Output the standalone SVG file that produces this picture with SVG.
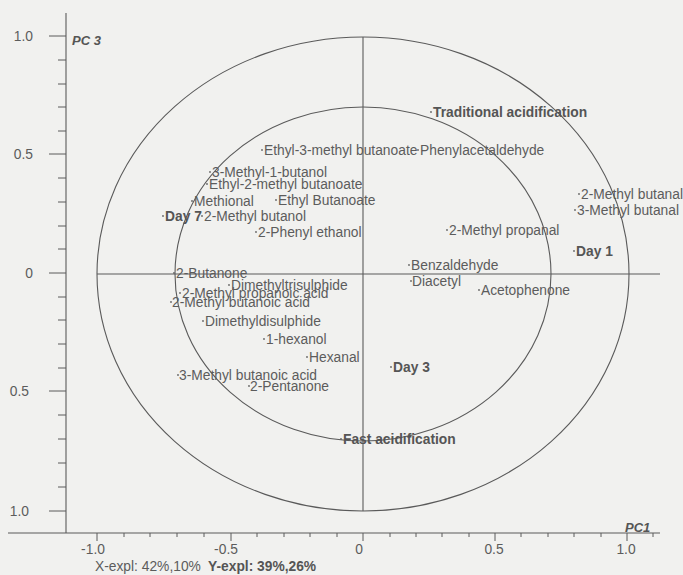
<svg xmlns="http://www.w3.org/2000/svg" width="683" height="575" viewBox="0 0 683 575">
<style>
.bg{fill:#f1f1ef}
.ln{stroke:#5a5a5a;stroke-width:1.1;fill:none}
.tk{stroke:#5a5a5a;stroke-width:1}
text{font-family:"Liberation Sans",Arial,sans-serif;fill:#5c5c5c;font-size:13.8px}
.b{font-weight:bold;fill:#555}
.ax{font-size:13.5px;fill:#666}
.it{font-style:italic;font-weight:bold;fill:#555;font-size:13px}
.dot{fill:#666}
</style>
<defs>
<circle id="d" r="0.9" class="dot"/>
</defs>
<rect class="bg" x="0" y="0" width="683" height="575"/>
<g id="axes">
<line class="ln" x1="66" y1="13" x2="66" y2="533"/>
<line class="ln" x1="8" y1="533" x2="660" y2="533"/>
<g class="tk">
<line x1="49" y1="36" x2="66" y2="36"/>
<line x1="58" y1="60" x2="66" y2="60"/>
<line x1="58" y1="84" x2="66" y2="84"/>
<line x1="58" y1="107" x2="66" y2="107"/>
<line x1="58" y1="131" x2="66" y2="131"/>
<line x1="49" y1="154" x2="66" y2="154"/>
<line x1="58" y1="178" x2="66" y2="178"/>
<line x1="58" y1="202" x2="66" y2="202"/>
<line x1="58" y1="226" x2="66" y2="226"/>
<line x1="58" y1="249" x2="66" y2="249"/>
<line x1="49" y1="273" x2="66" y2="273"/>
<line x1="58" y1="297" x2="66" y2="297"/>
<line x1="58" y1="320" x2="66" y2="320"/>
<line x1="58" y1="344" x2="66" y2="344"/>
<line x1="58" y1="368" x2="66" y2="368"/>
<line x1="49" y1="391" x2="66" y2="391"/>
<line x1="58" y1="415" x2="66" y2="415"/>
<line x1="58" y1="439" x2="66" y2="439"/>
<line x1="58" y1="463" x2="66" y2="463"/>
<line x1="58" y1="487" x2="66" y2="487"/>
<line x1="49" y1="511" x2="66" y2="511"/>
<line x1="97" y1="533" x2="97" y2="541"/>
<line x1="124" y1="533" x2="124" y2="537"/>
<line x1="150" y1="533" x2="150" y2="537"/>
<line x1="177" y1="533" x2="177" y2="537"/>
<line x1="204" y1="533" x2="204" y2="537"/>
<line x1="231" y1="533" x2="231" y2="541"/>
<line x1="257" y1="533" x2="257" y2="537"/>
<line x1="284" y1="533" x2="284" y2="537"/>
<line x1="310" y1="533" x2="310" y2="537"/>
<line x1="337" y1="533" x2="337" y2="537"/>
<line x1="363" y1="533" x2="363" y2="541"/>
<line x1="390" y1="533" x2="390" y2="537"/>
<line x1="416" y1="533" x2="416" y2="537"/>
<line x1="442" y1="533" x2="442" y2="537"/>
<line x1="469" y1="533" x2="469" y2="537"/>
<line x1="495" y1="533" x2="495" y2="541"/>
<line x1="521" y1="533" x2="521" y2="537"/>
<line x1="548" y1="533" x2="548" y2="537"/>
<line x1="574" y1="533" x2="574" y2="537"/>
<line x1="601" y1="533" x2="601" y2="537"/>
<line x1="627" y1="533" x2="627" y2="541"/>
<line x1="653" y1="533" x2="653" y2="537"/>
</g>
<g class="ax">
<text x="33" y="41" text-anchor="end">1.0</text>
<text x="33" y="159" text-anchor="end">0.5</text>
<text x="33" y="278" text-anchor="end">0</text>
<text x="29" y="396" text-anchor="end">0.5</text>
<text x="29" y="516" text-anchor="end">1.0</text>
<text x="93" y="554" text-anchor="middle">-1.0</text>
<text x="226" y="554" text-anchor="middle">-0.5</text>
<text x="359" y="554" text-anchor="middle">0</text>
<text x="494" y="554" text-anchor="middle">0.5</text>
<text x="626" y="554" text-anchor="middle">1.0</text>
</g>
<text class="it" x="72" y="45">PC 3</text>
<text class="it" x="625" y="532">PC1</text>
<text x="95" y="571">X-expl: 42%,10%</text>
<text x="208" y="571" class="b">Y-expl: 39%,26%</text>
</g>
<g id="circles">
<ellipse class="ln" cx="363" cy="274" rx="266" ry="237"/>
<ellipse class="ln" cx="363" cy="274" rx="188" ry="167"/>
<line class="ln" x1="363" y1="37" x2="363" y2="511"/>
<line class="ln" x1="97" y1="274" x2="660" y2="274"/>
</g>
<g id="n-ethyl3mb"><use href="#d" x="262" y="150"/><text x="264" y="155">Ethyl-3-methyl butanoate</text></g>
<g id="n-phenylacetaldehyde"><use href="#d" x="418" y="150"/><text x="420" y="155">Phenylacetaldehyde</text></g>
<g id="n-3m1b"><use href="#d" x="210" y="172"/><text x="212" y="177">3-Methyl-1-butanol</text></g>
<g id="n-ethyl2mb"><use href="#d" x="207" y="184"/><text x="209" y="189">Ethyl-2-methyl butanoate</text></g>
<g id="n-methional"><use href="#d" x="192" y="201"/><text x="194" y="206">Methional</text></g>
<g id="n-ethylbut"><use href="#d" x="276" y="200"/><text x="278" y="205">Ethyl Butanoate</text></g>
<g id="n-day7"><use href="#d" x="163" y="216"/><text class="b" x="165" y="221">Day 7</text></g>
<g id="n-2mbol"><use href="#d" x="202" y="216"/><text x="204" y="221">2-Methyl butanol</text></g>
<g id="n-2pe"><use href="#d" x="256" y="232"/><text x="258" y="237">2-Phenyl ethanol</text></g>
<g id="n-trad"><use href="#d" x="431" y="112"/><text class="b" x="433" y="117">Traditional acidification</text></g>
<g id="n-2mbal"><use href="#d" x="579" y="194"/><text x="581" y="199">2-Methyl butanal</text></g>
<g id="n-3mbal"><use href="#d" x="575" y="210"/><text x="577" y="215">3-Methyl butanal</text></g>
<g id="n-2mpal"><use href="#d" x="447" y="230"/><text x="449" y="235">2-Methyl propanal</text></g>
<g id="n-day1"><use href="#d" x="574" y="251"/><text class="b" x="576" y="256">Day 1</text></g>
<g id="n-benz"><use href="#d" x="409" y="265"/><text x="411" y="270">Benzaldehyde</text></g>
<g id="n-diacetyl"><use href="#d" x="411" y="281"/><text x="412" y="286">Diacetyl</text></g>
<g id="n-aceto"><use href="#d" x="479" y="290"/><text x="481" y="295">Acetophenone</text></g>
<g id="n-butanone"><use href="#d" x="174" y="273"/><text x="176" y="278">2-Butanone</text></g>
<g id="n-dmts"><use href="#d" x="229" y="285"/><text x="231" y="290">Dimethyltrisulphide</text></g>
<g id="n-2mpacid"><use href="#d" x="180" y="293"/><text x="182" y="298">2-Methyl propanoic acid</text></g>
<g id="n-2mbacid"><use href="#d" x="171" y="302"/><text x="172" y="307">2-Methyl butanoic acid</text></g>
<g id="n-dmds"><use href="#d" x="203" y="321"/><text x="205" y="326">Dimethyldisulphide</text></g>
<g id="n-hexanol"><use href="#d" x="264" y="339"/><text x="266" y="344">1-hexanol</text></g>
<g id="n-hexanal"><use href="#d" x="307" y="357"/><text x="309" y="362">Hexanal</text></g>
<g id="n-3mbacid"><use href="#d" x="178" y="375"/><text x="179" y="380">3-Methyl butanoic acid</text></g>
<g id="n-pentanone"><use href="#d" x="249" y="386"/><text x="250" y="391">2-Pentanone</text></g>
<g id="n-day3"><use href="#d" x="391" y="367"/><text class="b" x="393" y="372">Day 3</text></g>
<g id="n-fast"><use href="#d" x="341" y="439"/><text class="b" x="343" y="444">Fast acidification</text></g>
</svg>
